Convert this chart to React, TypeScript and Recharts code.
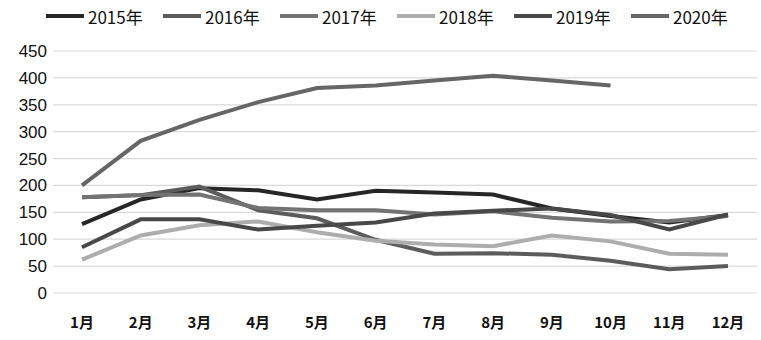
import { LineChart, Line, XAxis, YAxis, CartesianGrid, Legend } from "recharts";

const months = ["1月", "2月", "3月", "4月", "5月", "6月", "7月", "8月", "9月", "10月", "11月", "12月"];
const years = ["2015年", "2016年", "2017年", "2018年", "2019年", "2020年"];

const y2015 = [128, 174, 195, 191, 174, 190, 187, 183, 157, 143, 131, 145];
const y2016 = [178, 182, 198, 154, 139, 99, 73, 74, 71, 60, 44, 50];
const y2017 = [178, 182, 183, 158, 154, 154, 146, 152, 140, 133, 134, 143];
const y2018 = [62, 107, 126, 133, 113, 97, 90, 87, 107, 96, 73, 71];
const y2019 = [85, 137, 137, 118, 125, 131, 148, 153, 157, 145, 118, 146];
const y2020 = [200, 283, 322, 355, 381, 386, 395, 404, 395, 386, null, null];

const yTicks = [0, 50, 100, 150, 200, 250, 300, 350, 400, 450];

const COLORS = ["#262626", "#5c5c5c", "#737373", "#adadad", "#484848", "#666666"];
const SERIES = [y2015, y2016, y2017, y2018, y2019, y2020];

const data = months.map((m, i) => {
  const row: Record<string, string | number | null> = { month: m };
  years.forEach((y, j) => {
    row[y] = SERIES[j][i];
  });
  return row;
});

function LegendBox() {
  return (
    <div style={{ position: "relative", height: 24, width: 761 }}>
      {years.map((y, i) => (
        <div
          key={y}
          style={{
            position: "absolute",
            left: 46 + i * 117,
            top: 0,
            display: "flex",
            alignItems: "center",
            height: 22,
          }}
        >
          <div style={{ width: 38, height: 4, background: COLORS[i], marginRight: 4 }} />
          <span
            style={{
              fontFamily: "'Noto Sans CJK SC', sans-serif",
              fontSize: 17,
              color: "#111",
            }}
          >
            {y}
          </span>
        </div>
      ))}
    </div>
  );
}

export default function App() {
  return (
    <div style={{ position: "absolute", left: 0, top: 0, background: "#fff" }}>
      <LineChart width={761} height={340} data={data} margin={{ top: 51, right: 4, bottom: 0, left: 0 }}>
        <CartesianGrid vertical={false} stroke="#d9d9d9" strokeWidth={1.2} />
        <XAxis
          dataKey="month"
          axisLine={false}
          tickLine={false}
          height={47}
          padding={{ left: 29, right: 29 }}
          tickMargin={18}
          interval={0}
          tick={{ fontSize: 15, fontWeight: 700, fill: "#111", fontFamily: "'Noto Sans CJK SC', sans-serif" }}
        />
        <YAxis
          domain={[0, 450]}
          ticks={yTicks}
          axisLine={false}
          tickLine={false}
          width={53}
          tickSize={6}
          tickMargin={0}
          tick={{ fontSize: 17, fill: "#111", fontFamily: "'Liberation Sans', Arial, sans-serif" }}
        />
        <Legend
          verticalAlign="middle"
          align="center"
          layout="horizontal"
          content={() => <LegendBox />}
          wrapperStyle={{ top: 5, left: 0, width: 761 }}
        />
        {years.map((y, i) => (
          <Line
            key={y}
            dataKey={y}
            name={y}
            stroke={COLORS[i]}
            strokeWidth={4}
            dot={false}
            activeDot={false}
            type="linear"
            isAnimationActive={false}
          />
        ))}
      </LineChart>
    </div>
  );
}
